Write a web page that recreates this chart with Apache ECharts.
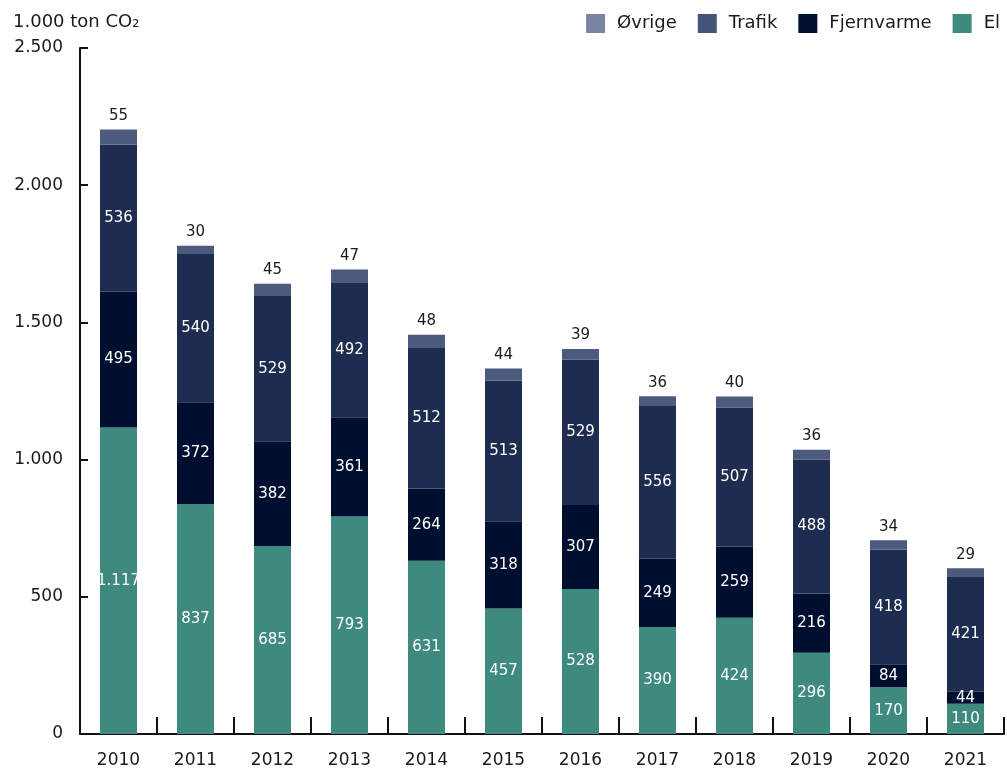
<!DOCTYPE html>
<html><head><meta charset="utf-8">
<script src="https://cdn.jsdelivr.net/npm/echarts@6/dist/echarts.min.js"></script>
<style>html,body{margin:0;padding:0;background:#fff}#c{width:1007px;height:771px}</style>
</head><body><div id="c"></div>
<script>
var years = ['2010','2011','2012','2013','2014','2015','2016','2017','2018','2019','2020','2021'];
var el = [1117, 837, 685, 793, 631, 457, 528, 390, 424, 296, 170, 110];
var fjernvarme = [495, 372, 382, 361, 264, 318, 307, 249, 259, 216, 84, 44];
var trafik = [536, 540, 529, 492, 512, 513, 529, 556, 507, 488, 418, 421];
var ovrige = [55, 30, 45, 47, 48, 44, 39, 36, 40, 36, 34, 29];
var yTicks = [0, 500, 1000, 1500, 2000, 2500];

var FONT = 'DejaVu Sans';
function fmt(v){ return String(v).replace(/\B(?=(\d{3})+(?!\d))/g, '.'); }

var chart = echarts.init(document.getElementById('c'));
function seg(name, data, color){
  return {
    name: name, type: 'bar', stack: 'a', data: data, barWidth: 37,
    itemStyle: {color: color},
    label: {show: true, position: 'inside', color: '#ffffff', fontFamily: FONT, fontSize: 15,
      formatter: function(p){ return fmt(p.value); }}
  };
}
var sOv = seg('Øvrige', ovrige, '#4c5a7e');
sOv.label = {show: true, position: 'top', distance: 6, color: '#1a1a1a', fontFamily: FONT, fontSize: 15,
  formatter: function(p){ return fmt(p.value); }};

chart.setOption({
  animation: false,
  title: {text: '1.000 ton CO₂', left: 8, top: 8,
    textStyle: {fontFamily: FONT, fontSize: 18, fontWeight: 'normal', color: '#1a1a1a'}},
  legend: {
    right: 2, top: 9, itemWidth: 19, itemHeight: 19, itemGap: 21, icon: 'rect',
    textStyle: {fontFamily: FONT, fontSize: 18, color: '#1a1a1a', padding: [0,0,0,7]},
    data: [
      {name: 'Øvrige', itemStyle: {color: '#7b83a3'}},
      {name: 'Trafik', itemStyle: {color: '#47547a'}},
      {name: 'Fjernvarme', itemStyle: {color: '#00102e'}},
      {name: 'El', itemStyle: {color: '#3f8a7e'}}
    ]
  },
  grid: {left: 80, right: 3, top: 48, bottom: 37, containLabel: false},
  xAxis: {
    type: 'category', data: years,
    axisLine: {lineStyle: {color: '#111', width: 2}},
    axisTick: {show: true, inside: true, length: 17, lineStyle: {color: '#111', width: 2}},
    axisLabel: {fontFamily: FONT, fontSize: 17, color: '#1a1a1a', margin: 18}
  },
  yAxis: {
    type: 'value', min: yTicks[0], max: yTicks[yTicks.length-1], interval: 500,
    axisLine: {show: true, lineStyle: {color: '#111', width: 2}},
    axisTick: {show: true, inside: true, length: 8, lineStyle: {color: '#111', width: 2}},
    splitLine: {show: false},
    axisLabel: {fontFamily: FONT, fontSize: 17, color: '#1a1a1a', margin: 17,
      formatter: function(v){ return fmt(v); }}
  },
  series: [
    seg('El', el, '#3f8a7e'),
    seg('Fjernvarme', fjernvarme, '#000f2f'),
    seg('Trafik', trafik, '#1d2c4f'),
    sOv
  ]
});
</script></body></html>
